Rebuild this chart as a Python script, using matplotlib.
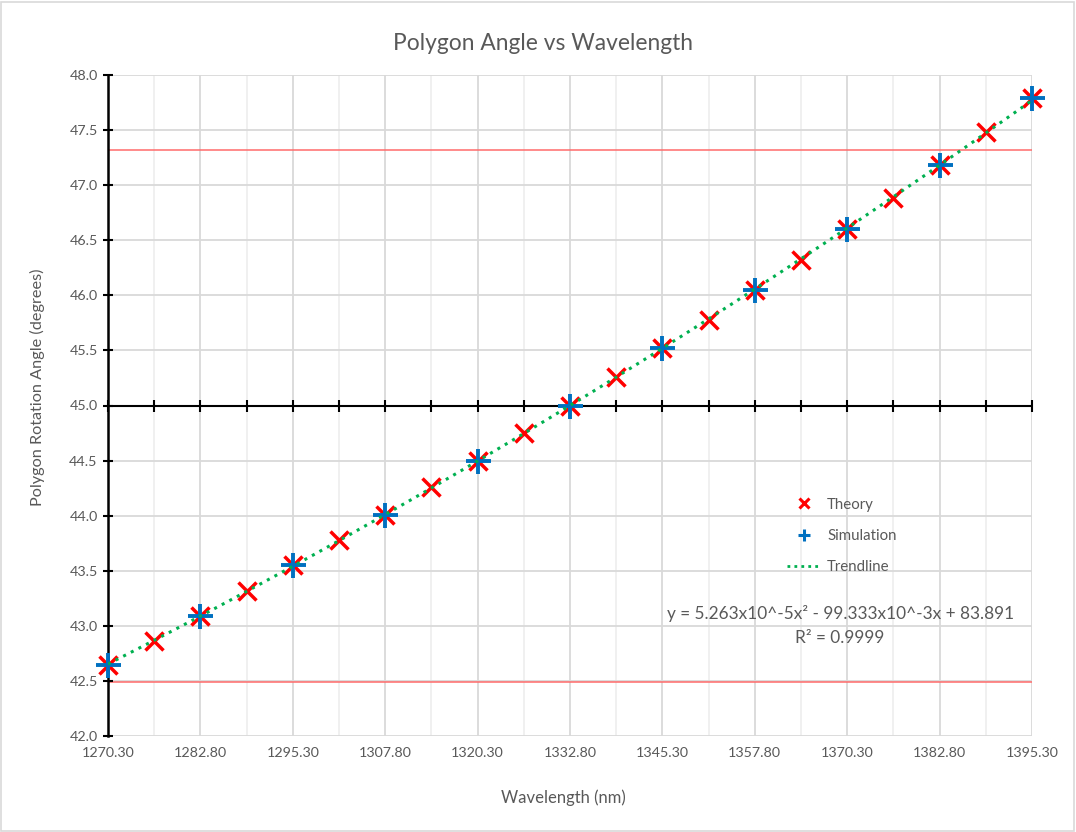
import numpy as np
import matplotlib
matplotlib.use("Agg")
import matplotlib.pyplot as plt
from matplotlib.lines import Line2D
from matplotlib.patches import Rectangle

# ---- data ----
theory_x = [1270.30, 1276.55, 1282.80, 1289.05, 1295.30, 1301.55, 1307.80, 1314.05,
            1320.30, 1326.55, 1332.80, 1339.05, 1345.30, 1351.55, 1357.80, 1364.05,
            1370.30, 1376.55, 1382.80, 1389.05, 1395.30]
theory_y = [42.64, 42.86, 43.09, 43.32, 43.55, 43.78, 44.01, 44.26,
            44.50, 44.75, 45.00, 45.26, 45.52, 45.78, 46.05, 46.32,
            46.60, 46.88, 47.18, 47.48, 47.79]
sim_x = [1270.30, 1282.80, 1295.30, 1307.80, 1320.30, 1332.80, 1345.30,
         1357.80, 1370.30, 1382.80, 1395.30]
sim_y = [42.64, 43.09, 43.55, 44.01, 44.50, 45.00, 45.52, 46.05, 46.60, 47.18, 47.79]
limit_lines = [47.32, 42.49]
x_major = [1270.30, 1282.80, 1295.30, 1307.80, 1320.30, 1332.80, 1345.30,
           1357.80, 1370.30, 1382.80, 1395.30]
x_labels = ["1270.30", "1282.80", "1295.30", "1307.80", "1320.30", "1332.80",
            "1345.30", "1357.80", "1370.30", "1382.80", "1395.30"]
x_minor = theory_x
y_ticks = [42.0, 42.5, 43.0, 43.5, 44.0, 44.5, 45.0, 45.5, 46.0, 46.5, 47.0, 47.5, 48.0]
axis_cross_y = 45.0
equation = "y = 5.263x10^-5x² - 99.333x10^-3x + 83.891"
r2_text = "R² = 0.9999"

plt.rcParams['font.family'] = ['Lato', 'DejaVu Sans']
txt = '#595959'

fig = plt.figure(figsize=(10.76, 8.32), dpi=100)
fig.patches.append(Rectangle((0.001, 0.001), 0.997, 0.997, transform=fig.transFigure,
                             fill=False, edgecolor='#d9d9d9', linewidth=1.2))
ax = fig.add_axes([108/1076, 1 - 736/832, (1032-108)/1076, (736-75)/832])

ax.set_xlim(x_major[0], x_major[-1])
ax.set_ylim(y_ticks[0], y_ticks[-1])

# gridlines
for xv in x_minor:
    if xv in x_major:
        ax.axvline(xv, color='#d9d9d9', lw=1.3, zorder=0)
    else:
        ax.axvline(xv, color='#efefef', lw=1.3, zorder=0)
for yv in y_ticks:
    ax.axhline(yv, color='#d9d9d9', lw=1.3, zorder=0)

# limit lines
for yv in limit_lines:
    ax.axhline(yv, color='#ff6b6b', lw=1.1, zorder=1)

# x axis crossing at 45 with tick marks
ax.axhline(axis_cross_y, color='black', lw=1.5, zorder=2)
ax.plot(x_minor, [axis_cross_y]*len(x_minor), linestyle='none', marker='|',
        markersize=8, markeredgewidth=1.5, color='black', zorder=2, clip_on=False)

for s in ['top', 'right', 'bottom']:
    ax.spines[s].set_visible(False)
ax.spines['left'].set_color('black')
ax.spines['left'].set_linewidth(1.8)
ax.spines['left'].set_zorder(3)

ax.set_xticks(x_major)
ax.set_xticklabels(x_labels)
ax.tick_params(axis='x', length=0, pad=8, labelsize=10.3, labelcolor=txt)
ax.set_yticks(y_ticks)
ax.set_yticklabels([f"{v:.1f}" for v in y_ticks])
ax.tick_params(axis='y', direction='inout', length=7, width=1.5, color='black',
               labelsize=10.3, labelcolor=txt, pad=4)

# series
ax.plot(theory_x, theory_y, linestyle='none', marker='x', markersize=13,
        markeredgewidth=2.5, color='#ff0000', zorder=4, clip_on=False, label='Theory')
ax.plot(sim_x, sim_y, linestyle='none', marker='+', markersize=18,
        markeredgewidth=2.8, color='#0070c0', zorder=5, clip_on=False, label='Simulation')

coef = np.polyfit(theory_x, theory_y, 2)
xt = np.linspace(theory_x[0], theory_x[-1], 300)
ax.plot(xt, np.polyval(coef, xt), linestyle=(0, (1, 1.8)), lw=2.2, color='#00b050',
        zorder=6, label='Trendline')

handles = [
    Line2D([], [], linestyle='none', marker='x', markersize=7, markeredgewidth=2.2, color='#ff0000'),
    Line2D([], [], linestyle='none', marker='+', markersize=8, markeredgewidth=2.2, color='#0070c0'),
    Line2D([], [], linestyle=(0, (1, 1.5)), lw=2, color='#00b050'),
]
leg = ax.legend(handles, ['Theory', 'Simulation', 'Trendline'], loc='upper left',
                bbox_to_anchor=((773-108)/924, (736-484)/661), frameon=False,
                fontsize=10.8, labelspacing=1.15, handlelength=2.3, handletextpad=0.4,
                labelcolor=txt)

ax.text((841-108)/924, (736-613)/661, equation, transform=ax.transAxes,
        ha='center', va='center', fontsize=12.4, color=txt)
ax.text((840-108)/924, (736-638)/661, r2_text, transform=ax.transAxes,
        ha='center', va='center', fontsize=12.4, color=txt)

fig.text(543/1076, 1 - 44/832, "Polygon Angle vs Wavelength", ha='center', va='center',
         fontsize=16.4, color=txt)
fig.text(563/1076, 1 - 798/832, "Wavelength (nm)", ha='center', va='center',
         fontsize=12, color=txt)
fig.text(37/1076, 1 - 387/832, "Polygon Rotation Angle (degrees)", ha='center',
         va='center', rotation=90, fontsize=11.7, color=txt)

fig.savefig("out.png", dpi=100)
